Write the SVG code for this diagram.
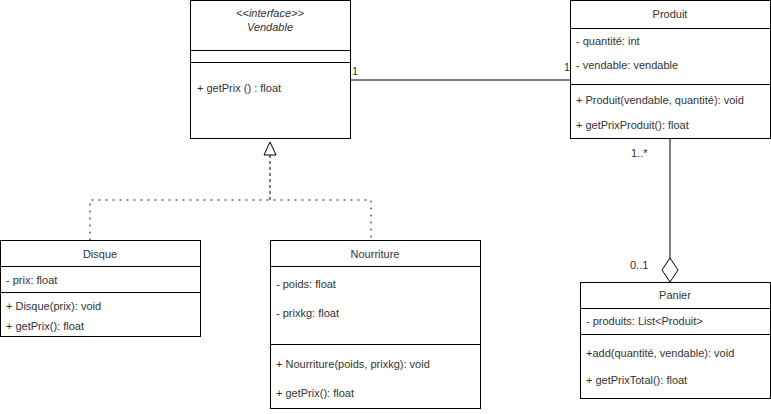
<svg xmlns="http://www.w3.org/2000/svg" width="771" height="414" viewBox="0 0 771 414">
<style>
text{font-family:"Liberation Sans",Arial,sans-serif;font-size:11px;fill:#333}
.b{fill:#fff;stroke:#000;stroke-width:1}
.l{stroke:#000;stroke-width:1;fill:none}
.c{text-anchor:middle}
</style>
<rect width="771" height="414" fill="#fff"/>
<g id="connectors">
<line class="l" x1="350" y1="80" x2="570" y2="80"/>
<text x="352" y="75">1</text><text x="564" y="71">1</text>
<line class="l" x1="670" y1="138" x2="670" y2="258"/>
<path class="b" d="M670 258 L678 270 L670 282 L662 270 Z"/>
<text x="631" y="157">1..*</text><text x="630" y="269">0..1</text>
<path class="b" d="M270 142 L276 155 L264 155 Z"/>
<line class="l" x1="270" y1="155" x2="270" y2="200" stroke-dasharray="3 3"/>
<path class="l" d="M90 240 V200 H371 V240" stroke-width="2" stroke-dasharray="1 6" stroke-linecap="round"/>
</g>
<g id="vendable">
<rect class="b" x="190.5" y="0.5" width="160" height="138"/>
<line class="l" x1="190" y1="50.5" x2="350" y2="50.5"/>
<line class="l" x1="190" y1="62.5" x2="350" y2="62.5"/>
<text class="c" x="270" y="17" font-style="italic" font-size="10">&lt;&lt;interface&gt;&gt;</text>
<text class="c" x="270" y="31" font-style="italic">Vendable</text>
<text x="197" y="92">+ getPrix () : float</text>
</g>
<g id="produit">
<rect class="b" x="570.5" y="0.5" width="200" height="138"/>
<line class="l" x1="570" y1="28.5" x2="770" y2="28.5"/>
<line class="l" x1="570" y1="84.5" x2="770" y2="84.5"/>
<text class="c" x="670" y="18">Produit</text>
<text x="576" y="45">- quantité: int</text>
<text x="576" y="69">- vendable: vendable</text>
<text x="576" y="104">+ Produit(vendable, quantité): void</text>
<text x="576" y="129">+ getPrixProduit(): float</text>
</g>
<g id="panier">
<rect class="b" x="580.5" y="282.5" width="190" height="116"/>
<line class="l" x1="580" y1="308.5" x2="770" y2="308.5"/>
<line class="l" x1="580" y1="334.5" x2="770" y2="334.5"/>
<text class="c" x="675" y="299">Panier</text>
<text x="586" y="325">- produits: List&lt;Produit&gt;</text>
<text x="586" y="357">+add(quantité, vendable): void</text>
<text x="586" y="384">+ getPrixTotal(): float</text>
</g>
<g id="disque">
<rect class="b" x="0.5" y="240.5" width="200" height="96"/>
<line class="l" x1="0" y1="266.5" x2="200" y2="266.5"/>
<line class="l" x1="0" y1="292.5" x2="200" y2="292.5"/>
<text class="c" x="100" y="258">Disque</text>
<text x="6" y="284">- prix: float</text>
<text x="6" y="310">+ Disque(prix): void</text>
<text x="6" y="330">+ getPrix(): float</text>
</g>
<g id="nourriture">
<rect class="b" x="270.5" y="240.5" width="210" height="168"/>
<line class="l" x1="270" y1="266.5" x2="480" y2="266.5"/>
<line class="l" x1="270" y1="344.5" x2="480" y2="344.5"/>
<text class="c" x="375" y="258">Nourriture</text>
<text x="276" y="288">- poids: float</text>
<text x="276" y="317">- prixkg: float</text>
<text x="276" y="368">+ Nourriture(poids, prixkg): void</text>
<text x="276" y="397">+ getPrix(): float</text>
</g>
</svg>
